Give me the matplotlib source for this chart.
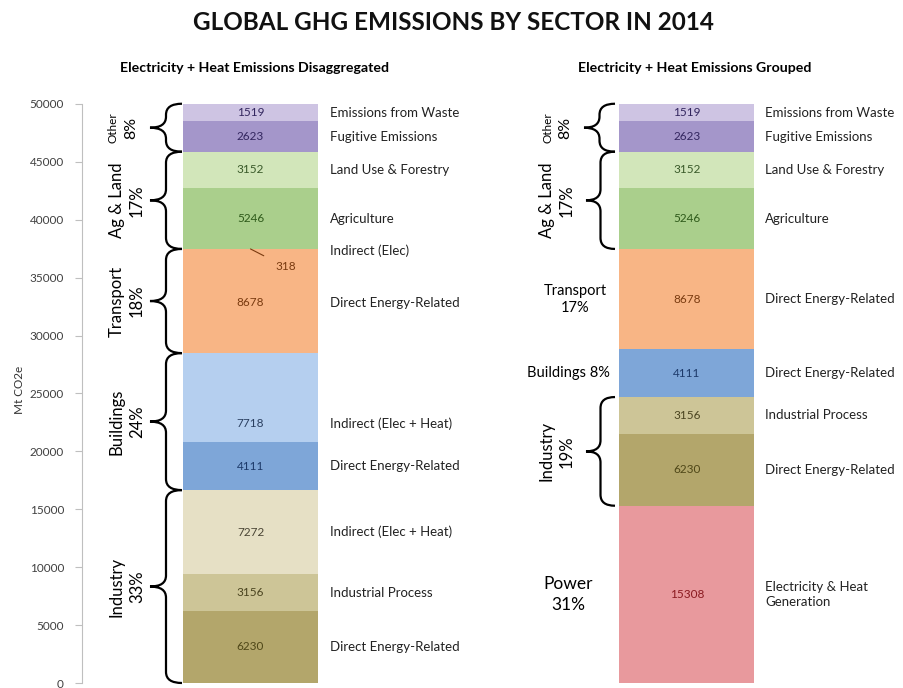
import numpy as np
import matplotlib.pyplot as plt
from matplotlib.path import Path
from matplotlib.patches import PathPatch

plt.rcParams['font.family'] = ['Lato', 'DejaVu Sans']

# ---- data (Mt CO2e), bottom to top ----
left_values = [6230, 3156, 7272, 4111, 7718, 8678, 318, 5246, 3152, 2623, 1519]
left_labels = ["Direct Energy-Related", "Industrial Process", "Indirect (Elec + Heat)",
               "Direct Energy-Related", "Indirect (Elec + Heat)", "Direct Energy-Related",
               "Indirect (Elec)", "Agriculture", "Land Use & Forestry",
               "Fugitive Emissions", "Emissions from Waste"]
left_sectors = ["Industry", "Buildings", "Transport", "Ag & Land", "Other"]
left_pcts = ["33%", "24%", "18%", "17%", "8%"]
left_groups = [(0, 2), (3, 4), (5, 6), (7, 8), (9, 10)]

right_values = [15308, 6230, 3156, 4111, 8678, 5246, 3152, 2623, 1519]
right_labels = ["Electricity & Heat\nGeneration", "Direct Energy-Related", "Industrial Process",
                "Direct Energy-Related", "Direct Energy-Related", "Agriculture",
                "Land Use & Forestry", "Fugitive Emissions", "Emissions from Waste"]
right_sectors = ["Power", "Industry", "Buildings", "Transport", "Ag & Land", "Other"]
right_pcts = ["31%", "19%", "8%", "17%", "17%", "8%"]
right_groups = [(0, 0), (1, 2), (3, 3), (4, 4), (5, 6), (7, 8)]

yticks = np.arange(0, 50001, 5000)

# ---- styles ----
seg_colors = {
    "ind_direct": ("#b3a66b", "#4f4718"), "ind_proc": ("#cdc597", "#4a4420"),
    "ind_indir": ("#e6e0c5", "#4a4535"), "bld_direct": ("#7ea6d8", "#1d3a6a"),
    "bld_indir": ("#b5cfef", "#2a3f60"), "trn": ("#f8b585", "#7a3b10"),
    "ag": ("#aacf8c", "#2e5a1a"), "land": ("#d2e6ba", "#3a5a2a"),
    "fug": ("#a496ca", "#33265f"), "waste": ("#cec4e3", "#33265f"),
    "power": ("#e8999d", "#8a1a20"),
}
left_keys = ["ind_direct", "ind_proc", "ind_indir", "bld_direct", "bld_indir",
             "trn", "trn", "ag", "land", "fug", "waste"]
right_keys = ["power", "ind_direct", "ind_proc", "bld_direct", "trn", "ag",
              "land", "fug", "waste"]

fig = plt.figure(figsize=(9.04, 6.88), dpi=100)
ax = fig.add_axes([82 / 904, 5 / 688, (900 - 82) / 904, 579 / 688])
ax.set_xlim(82, 900)
ax.set_ylim(0, 50000)
k = 50000 / 579  # data units per pixel

for s in ["top", "right", "bottom"]:
    ax.spines[s].set_visible(False)
ax.spines["left"].set_color("#bfbfbf")
ax.set_xticks([])
ax.set_yticks(yticks)
ax.set_yticklabels([str(t) for t in yticks])
ax.tick_params(axis="y", length=5, color="#bfbfbf", labelsize=8.5,
               labelcolor="#404040", pad=8)


def brace(x_tip, x_end, y0, y1, r=11):
    rv = r * k
    xm = (x_tip + x_end) / 2
    ym = (y0 + y1) / 2
    verts = [(x_end, y0), (xm, y0), (xm, y0 + rv), (xm, ym - rv), (xm, ym), (x_tip, ym),
             (xm, ym), (xm, ym + rv), (xm, y1 - rv), (xm, y1), (x_end, y1)]
    codes = [Path.MOVETO, Path.CURVE3, Path.CURVE3, Path.LINETO, Path.CURVE3, Path.CURVE3,
             Path.CURVE3, Path.CURVE3, Path.LINETO, Path.CURVE3, Path.CURVE3]
    ax.add_patch(PathPatch(Path(verts, codes), fill=False, lw=1.6, color="black",
                           clip_on=False))


def stack(xc, values, labels, keys, txt_x, label_shift):
    bottoms = np.concatenate([[0], np.cumsum(values)[:-1]])
    ax.bar(xc, values, bottom=bottoms, width=135,
           color=[seg_colors[c][0] for c in keys], linewidth=0)
    for i, (v, b, lab, key) in enumerate(zip(values, bottoms, labels, keys)):
        y = b + v / 2 + label_shift.get(i, 0)
        tc = seg_colors[key][1]
        if v < 1000:
            ax.annotate(str(v), xy=(xc, b + v), xytext=(xc + 35, b + v - 18 * k),
                        fontsize=8.5, color=tc, ha="center", va="center",
                        arrowprops=dict(arrowstyle="-", color="#7a3b10", lw=0.8,
                                        shrinkA=7, shrinkB=0))
        else:
            ax.text(xc, y, str(v), fontsize=8.5, color=tc, ha="center", va="center")
        ax.text(txt_x, y, lab, fontsize=9.5, color="#222222", ha="left", va="center",
                linespacing=1.3)
    return bottoms


lb = stack(250.5, left_values, left_labels, left_keys, 330, {4: -2250})
rb = stack(687, right_values, right_labels, right_keys, 765, {})

# left sector braces and names
for name, pct, (a, b) in zip(left_sectors, left_pcts, left_groups):
    y0 = lb[a]
    y1 = lb[b] + left_values[b]
    ym = (y0 + y1) / 2
    brace(150, 182, y0, y1)
    if name == "Other":
        ax.text(113, ym, name, rotation=90, fontsize=8.5, ha="center", va="center")
        ax.text(131, ym, pct, rotation=90, fontsize=11.5, ha="center", va="center")
    else:
        ax.text(117, ym, name, rotation=90, fontsize=12, ha="center", va="center")
        ax.text(137, ym, pct, rotation=90, fontsize=12, ha="center", va="center")

# right sector braces and names
for name, pct, (a, b) in zip(right_sectors, right_pcts, right_groups):
    y0 = rb[a]
    y1 = rb[b] + right_values[b]
    ym = (y0 + y1) / 2
    if name == "Other":
        brace(584, 615, y0, y1)
        ax.text(548, ym, name, rotation=90, fontsize=8.5, ha="center", va="center")
        ax.text(565, ym, pct, rotation=90, fontsize=11.5, ha="center", va="center")
    elif name in ("Ag & Land", "Industry"):
        brace(586, 615, y0, y1)
        ax.text(547, ym, name, rotation=90, fontsize=12, ha="center", va="center")
        ax.text(567, ym, pct, rotation=90, fontsize=12, ha="center", va="center")
    elif name == "Buildings":
        ax.text(568, ym, name + " " + pct, fontsize=10.5, ha="center", va="center")
    elif name == "Power":
        ax.text(568, ym, name + "\n" + pct, fontsize=12.5, ha="center", va="center",
                linespacing=1.4)
    else:
        ax.text(575, ym, name + "\n" + pct, fontsize=10.5, ha="center", va="center",
                linespacing=1.3)

fig.text(453 / 904, 1 - 22 / 688, "GLOBAL GHG EMISSIONS BY SECTOR IN 2014",
         fontsize=17.5, fontweight="bold", ha="center", va="center", color="#111111")
fig.text(255 / 904, 1 - 68 / 688, "Electricity + Heat Emissions Disaggregated",
         fontsize=10.2, fontweight="bold", ha="center", va="center")
fig.text(695 / 904, 1 - 68 / 688, "Electricity + Heat Emissions Grouped",
         fontsize=10.2, fontweight="bold", ha="center", va="center")
fig.text(20 / 904, 1 - 390 / 688, "Mt CO2e", rotation=90, fontsize=8.5,
         ha="center", va="center", color="#333333")

fig.savefig("out.png", dpi=100)
